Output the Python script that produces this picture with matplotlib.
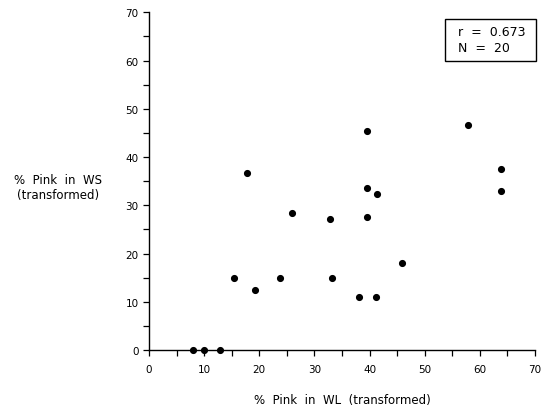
import matplotlib.pyplot as plt
from matplotlib.patches import Rectangle
from matplotlib.ticker import MultipleLocator

plt.rcParams['font.family'] = ['DejaVu Sans']

# % pink in WL (transformed) vs % pink in WS (transformed)
wl = [8.0, 10.0, 12.8, 15.4, 17.8, 19.3, 23.7, 26.0, 32.8, 33.2,
      38.1, 41.1, 39.6, 39.5, 41.3, 39.5, 45.8, 57.8, 63.8, 63.8]
ws = [0.0, 0.0, 0.0, 15.0, 36.7, 12.5, 15.0, 28.5, 27.1, 15.0,
      11.0, 11.0, 45.3, 33.6, 32.4, 27.6, 18.1, 46.6, 37.6, 32.9]

fig = plt.figure(figsize=(5.43, 4.10), dpi=100)
ax = fig.add_axes([0.2744, 0.1439, 0.7109, 0.8237])

ax.scatter(wl, ws, s=17, color='black', zorder=3, clip_on=False)

ax.set_xlim(0, 70)
ax.set_ylim(0, 70)
ax.xaxis.set_major_locator(MultipleLocator(10))
ax.yaxis.set_major_locator(MultipleLocator(10))
ax.xaxis.set_minor_locator(MultipleLocator(5))
ax.yaxis.set_minor_locator(MultipleLocator(5))
ax.tick_params(which='both', direction='out', length=4, width=0.9, labelsize=7.5, colors='black')
ax.tick_params(axis='x', pad=6)
ax.spines['top'].set_visible(False)
ax.spines['right'].set_visible(False)
ax.spines['left'].set_linewidth(1.0)
ax.spines['bottom'].set_linewidth(1.0)

ax.set_xlabel('%  Pink  in  WL  (transformed)', fontsize=8.5, labelpad=14)
fig.text(0.107, 0.541, '%  Pink  in  WS\n(transformed)', fontsize=8.5,
         ha='center', va='center', linespacing=1.25)

# stats box
ax.add_patch(Rectangle((0.767, 0.856), 0.236, 0.124, transform=ax.transAxes,
                       facecolor='white', edgecolor='black', linewidth=1.0,
                       clip_on=False, zorder=4))
ax.text(0.800, 0.918, 'r  =  0.673\nN  =  20', transform=ax.transAxes,
        fontsize=9, ha='left', va='center', linespacing=1.3, zorder=5)

fig.savefig('out.png', dpi=100)
